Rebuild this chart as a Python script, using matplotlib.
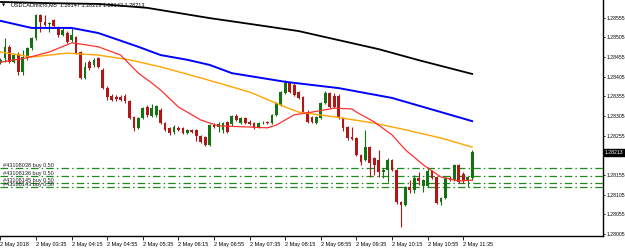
import numpy as np
import matplotlib.pyplot as plt
import matplotlib.transforms as mtransforms

# USDCADmicro M5 candles, 02:55 .. 11:45
opens = [1.28440, 1.28453, 1.28481, 1.28442, 1.28463, 1.28417, 1.28453, 1.28478, 1.28503, 1.28562,
         1.28544, 1.28538, 1.28549, 1.28531, 1.28511, 1.28516, 1.28498, 1.28506, 1.28468, 1.28402,
         1.28442, 1.28435, 1.28453, 1.28422, 1.28376, 1.28356, 1.28353, 1.28353, 1.28356, 1.28343,
         1.28303, 1.28275, 1.28300, 1.28328, 1.28305, 1.28308, 1.28320, 1.28287, 1.28275, 1.28264,
         1.28275, 1.28275, 1.28262, 1.28270, 1.28270, 1.28254, 1.28252, 1.28231, 1.28282, 1.28277,
         1.28270, 1.28290, 1.28285, 1.28305, 1.28287, 1.28300, 1.28290, 1.28287, 1.28277, 1.28289,
         1.28290, 1.28287, 1.28308, 1.28333, 1.28364, 1.28389, 1.28384, 1.28366, 1.28353, 1.28315,
         1.28303, 1.28287, 1.28300, 1.28338, 1.28364, 1.28356, 1.28356, 1.28300, 1.28277, 1.28252,
         1.28249, 1.28206, 1.28193, 1.28226, 1.28198, 1.28193, 1.28163, 1.28168, 1.28193, 1.28168,
         1.28087, 1.28079, 1.28125, 1.28117, 1.28148, 1.28127, 1.28127, 1.28165, 1.28150, 1.28087,
         1.28097, 1.28148, 1.28142, 1.28181, 1.28158, 1.28140, 1.28147]
highs = [1.28453, 1.28503, 1.28486, 1.28465, 1.28468, 1.28473, 1.28481, 1.28506, 1.28564, 1.28564,
         1.28562, 1.28544, 1.28552, 1.28534, 1.28531, 1.28521, 1.28529, 1.28508, 1.28470, 1.28442,
         1.28448, 1.28453, 1.28455, 1.28427, 1.28381, 1.28361, 1.28359, 1.28359, 1.28361, 1.28346,
         1.28305, 1.28303, 1.28328, 1.28333, 1.28336, 1.28333, 1.28325, 1.28290, 1.28277, 1.28282,
         1.28280, 1.28277, 1.28272, 1.28272, 1.28272, 1.28257, 1.28254, 1.28285, 1.28287, 1.28290,
         1.28290, 1.28292, 1.28308, 1.28310, 1.28303, 1.28303, 1.28295, 1.28290, 1.28290, 1.28292,
         1.28292, 1.28310, 1.28341, 1.28369, 1.28397, 1.28392, 1.28389, 1.28369, 1.28356, 1.28320,
         1.28305, 1.28305, 1.28341, 1.28369, 1.28366, 1.28364, 1.28361, 1.28303, 1.28280, 1.28277,
         1.28252, 1.28209, 1.28270, 1.28229, 1.28201, 1.28219, 1.28173, 1.28198, 1.28196, 1.28170,
         1.28089, 1.28127, 1.28142, 1.28155, 1.28163, 1.28145, 1.28176, 1.28168, 1.28153, 1.28099,
         1.28150, 1.28153, 1.28183, 1.28183, 1.28163, 1.28153, 1.28219]
lows = [1.28437, 1.28442, 1.28440, 1.28440, 1.28409, 1.28409, 1.28448, 1.28473, 1.28498, 1.28519,
        1.28534, 1.28519, 1.28531, 1.28506, 1.28508, 1.28491, 1.28493, 1.28463, 1.28399, 1.28399,
        1.28422, 1.28430, 1.28427, 1.28374, 1.28346, 1.28343, 1.28343, 1.28343, 1.28338, 1.28298,
        1.28267, 1.28272, 1.28298, 1.28303, 1.28303, 1.28303, 1.28285, 1.28267, 1.28257, 1.28259,
        1.28267, 1.28259, 1.28259, 1.28262, 1.28242, 1.28236, 1.28229, 1.28229, 1.28275, 1.28264,
        1.28262, 1.28262, 1.28280, 1.28292, 1.28285, 1.28285, 1.28282, 1.28272, 1.28275, 1.28285,
        1.28285, 1.28285, 1.28305, 1.28331, 1.28361, 1.28364, 1.28356, 1.28348, 1.28313, 1.28287,
        1.28287, 1.28285, 1.28298, 1.28336, 1.28325, 1.28325, 1.28298, 1.28267, 1.28244, 1.28244,
        1.28203, 1.28181, 1.28191, 1.28150, 1.28155, 1.28150, 1.28148, 1.28137, 1.28165, 1.28081,
        1.28023, 1.28076, 1.28109, 1.28109, 1.28130, 1.28112, 1.28125, 1.28145, 1.28081, 1.28079,
        1.28094, 1.28140, 1.28140, 1.28135, 1.28135, 1.28125, 1.28142]
closes = [1.28448, 1.28481, 1.28442, 1.28460, 1.28417, 1.28455, 1.28478, 1.28503, 1.28562, 1.28544,
          1.28536, 1.28542, 1.28534, 1.28511, 1.28524, 1.28493, 1.28511, 1.28465, 1.28402, 1.28430,
          1.28427, 1.28448, 1.28430, 1.28376, 1.28353, 1.28346, 1.28348, 1.28346, 1.28343, 1.28300,
          1.28275, 1.28300, 1.28325, 1.28308, 1.28325, 1.28331, 1.28287, 1.28270, 1.28262, 1.28277,
          1.28270, 1.28262, 1.28270, 1.28264, 1.28254, 1.28239, 1.28231, 1.28282, 1.28277, 1.28285,
          1.28287, 1.28264, 1.28305, 1.28295, 1.28300, 1.28287, 1.28286, 1.28275, 1.28287, 1.28290,
          1.28287, 1.28308, 1.28338, 1.28366, 1.28389, 1.28366, 1.28359, 1.28351, 1.28315, 1.28290,
          1.28290, 1.28303, 1.28338, 1.28364, 1.28328, 1.28328, 1.28300, 1.28275, 1.28249, 1.28247,
          1.28206, 1.28188, 1.28226, 1.28186, 1.28181, 1.28163, 1.28168, 1.28193, 1.28168, 1.28087,
          1.28079, 1.28125, 1.28117, 1.28148, 1.28140, 1.28142, 1.28165, 1.28148, 1.28084, 1.28097,
          1.28148, 1.28142, 1.28181, 1.28137, 1.28140, 1.28150, 1.28213]

# moving averages read at some bars
ma_black_bar = [0, 11, 22, 33, 40, 47, 58, 67, 76, 85, 94, 106]
ma_black = [1.28595, 1.28592, 1.28590, 1.28580, 1.28567, 1.28554, 1.28536, 1.28521, 1.28498, 1.28475, 1.28447, 1.28412]
ma_blue_bar = [0, 7, 16, 22, 31, 36, 42, 47, 52, 64, 76, 88, 99, 106]
ma_blue = [1.28547, 1.28529, 1.28529, 1.28516, 1.28481, 1.28460, 1.28448, 1.28435, 1.28414, 1.28392, 1.28376, 1.28351, 1.28315, 1.28292]
ma_orange_bar = [0, 7, 15, 22, 29, 34, 36, 45, 56, 64, 67, 75, 84, 91, 99, 106]
ma_orange = [1.28468, 1.28455, 1.28465, 1.28460, 1.28448, 1.28435, 1.28430, 1.28402, 1.28366, 1.28328, 1.28315, 1.28303, 1.28287, 1.28270, 1.28249, 1.28226]
ma_red_bar = [0, 6, 11, 16, 18, 22, 27, 31, 34, 36, 40, 45, 49, 56, 60, 62, 66, 70, 75, 79, 80, 84, 88, 91, 95, 99, 103, 106]
ma_red = [1.28442, 1.28453, 1.28468, 1.28491, 1.28488, 1.28481, 1.28460, 1.28414, 1.28389, 1.28371, 1.28328, 1.28295, 1.28280, 1.28277,
          1.28275, 1.28282, 1.28308, 1.28315, 1.28325, 1.28323, 1.28315, 1.28290, 1.28257, 1.28219, 1.28181, 1.28150, 1.28140, 1.28142]

orders = ["#43108038 buy 0.50", "#43108136 buy 0.50", "#43108145 buy 0.50", "#43108143 buy 0.50"]
order_prices = [1.28172, 1.28152, 1.28134, 1.28124]

tick_bars = [0, 8, 16, 24, 32, 40, 48, 56, 64, 72, 80, 88, 96, 104]
tick_labels = ["2 May 2018", "2 May 03:35", "2 May 04:15", "2 May 04:55", "2 May 05:35", "2 May 06:15",
               "2 May 06:55", "2 May 07:35", "2 May 08:15", "2 May 08:55", "2 May 09:35", "2 May 10:15",
               "2 May 10:55", "2 May 11:35"]
price_ticks = [1.28005, 1.28055, 1.28105, 1.28155, 1.28255, 1.28305, 1.28355, 1.28405, 1.28455, 1.28505, 1.28555]

plt.rcParams['font.family'] = ['Liberation Sans', 'DejaVu Sans']

o = np.array(opens); h = np.array(highs); l = np.array(lows); c = np.array(closes)
x = np.arange(len(o))
col = np.where(c >= o, "#137313", "#b01818")

fig = plt.figure(figsize=(6.25, 2.48), dpi=100)
ax = fig.add_axes([0, 12/248, 603/625, 236/248])

ax.vlines(x, l, h, colors=col, lw=0.8, zorder=3)
ax.bar(x, np.maximum(np.abs(c - o), 0.00002), bottom=np.minimum(o, c), width=0.62, color=col, lw=0, zorder=4)

ax.plot(ma_black_bar, ma_black, color="black", lw=1.3, zorder=5)
ax.plot(ma_blue_bar, ma_blue, color="#0000ff", lw=1.4, zorder=5)
ax.plot(ma_orange_bar, ma_orange, color="#ffa500", lw=1.0, zorder=5)
ax.plot(ma_red_bar, ma_red, color="#ff3030", lw=0.9, zorder=5)

for p, s in zip(order_prices, orders):
    ax.axhline(p, color="#1f8a1f", lw=0.9, ls=(0, (6, 2.5, 1.2, 2.5)), zorder=2)
    ax.text(0.6, p, s, fontsize=4, va="bottom", ha="left", color="#222222", zorder=6)

ax.set_xlim(-0.1, 135.4)
ax.set_ylim(1.2800, 1.2860)

ax.spines["top"].set_visible(False)
ax.spines["left"].set_visible(False)
ax.spines["right"].set_linewidth(1.0)
ax.spines["bottom"].set_linewidth(1.0)

ax.yaxis.tick_right()
ax.set_yticks(price_ticks)
ax.set_yticklabels(["%.5f" % v for v in price_ticks])
ax.tick_params(axis="y", labelsize=3.7, length=1.5, width=0.6, pad=0.8)
ax.set_xticks(tick_bars)
ax.set_xticklabels(tick_labels)
ax.tick_params(axis="x", labelsize=4, length=3, width=0.6, pad=1)
for t in ax.get_xticklabels():
    t.set_horizontalalignment("left")

ax.text(0.003, 0.985, "\u25bc", transform=ax.transAxes, fontsize=3, va="top", family="DejaVu Sans")
ax.text(0.018, 0.99, "USDCADmicro,M5  1.28147 1.28219 1.28142 1.28213", transform=ax.transAxes,
        fontsize=4, va="top")

trans = mtransforms.blended_transform_factory(ax.transAxes, ax.transData)
ax.text(1.003, closes[-1], "%.5f" % closes[-1], transform=trans, fontsize=3.7, color="white",
        va="center", ha="left", clip_on=False, zorder=10,
        bbox=dict(facecolor="black", edgecolor="black", pad=0.8))

plt.savefig("out.png", dpi=100)
